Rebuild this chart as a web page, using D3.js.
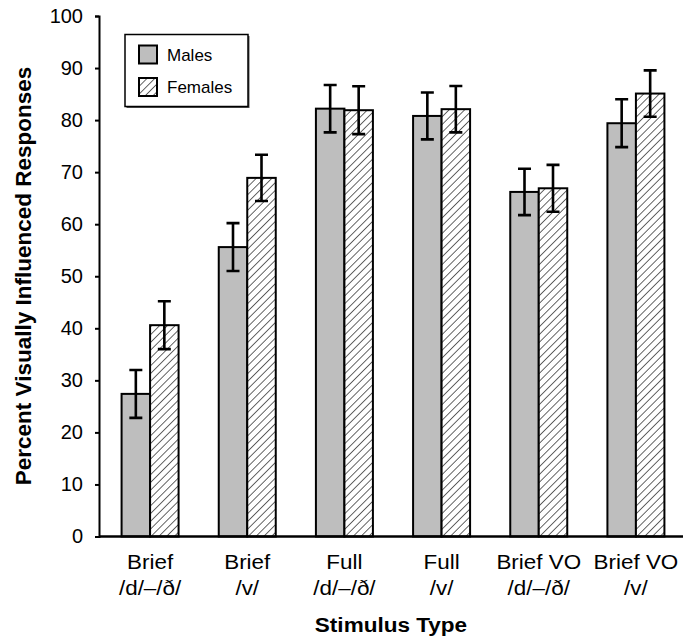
<!DOCTYPE html>
<html lang="en">
<head>
  <meta charset="UTF-8">
  <title>Percent Visually Influenced Responses</title>
  <script src="https://cdnjs.cloudflare.com/ajax/libs/d3/7.8.5/d3.min.js"></script>
  <style>
    body { margin: 0; background: #fff; }
    svg { display: block; font-family: "Liberation Sans", Arial, Helvetica, sans-serif; }
    .axis path, .axis line { stroke: #000; stroke-width: 2px; }
    .axis text { font-size: 20px; fill: #000; }
    .bar { stroke: #000; stroke-width: 2px; }
    .err { stroke: #000; stroke-width: 2.6px; fill: none; }
  </style>
</head>
<body>
  <div id="chart"></div>
  <script>
    // data
    var catTop = ["Brief", "Brief", "Full", "Full", "Brief VO", "Brief VO"];
    var catBottom = ["/d/–/ð/", "/v/", "/d/–/ð/", "/v/", "/d/–/ð/", "/v/"];
    var categories = catTop.map(function(t, i) { return t + " " + catBottom[i]; });
    var males = [27.4, 55.6, 82.2, 80.8, 66.2, 79.4];
    var females = [40.6, 68.9, 81.9, 82.1, 66.9, 85.1];
    var malesErr = [4.6, 4.6, 4.55, 4.5, 4.45, 4.6];
    var femalesErr = [4.6, 4.45, 4.6, 4.45, 4.5, 4.45];
    var series = ["Males", "Females"];
    var yTicks = [0, 10, 20, 30, 40, 50, 60, 70, 80, 90, 100];

    var width = 683, height = 639;
    var x0 = 99, yBase = 536.5, yTop = 16;

    var svg = d3.select("#chart").append("svg")
        .attr("width", width)
        .attr("height", height);

    // hatch for females
    var defs = svg.append("defs");
    defs.append("pattern")
        .attr("id", "hatch")
        .attr("patternUnits", "userSpaceOnUse")
        .attr("width", 5.5)
        .attr("height", 5.5)
        .attr("patternTransform", "rotate(45)")
      .call(function(p) {
        p.append("rect").attr("width", 5.5).attr("height", 5.5).attr("fill", "#fff");
        p.append("line").attr("x1", 0).attr("y1", 0).attr("x2", 0).attr("y2", 5.5)
          .attr("stroke", "#000").attr("stroke-width", 1.2);
      });

    var fills = { Males: "#bebebe", Females: "url(#hatch)" };

    // scales
    var x = d3.scaleBand().domain(categories).range([101.5, 684.5]);
    var xs = d3.scaleBand().domain(series).range([-28.5, 28.5]);
    var y = d3.scaleLinear().domain([0, 100]).range([yBase, yTop]);

    // bars
    var rows = categories.map(function(c, i) {
      return [
        { cat: c, key: "Males", v: males[i], e: malesErr[i] },
        { cat: c, key: "Females", v: females[i], e: femalesErr[i] }
      ];
    });

    var group = svg.selectAll(".grp")
        .data(rows)
      .enter().append("g")
        .attr("class", "grp")
        .attr("transform", function(d) { return "translate(" + (x(d[0].cat) + x.bandwidth() / 2) + ",0)"; });

    group.selectAll(".bar")
        .data(function(d) { return d; })
      .enter().append("rect")
        .attr("class", "bar")
        .attr("x", function(d) { return xs(d.key); })
        .attr("width", xs.bandwidth())
        .attr("y", function(d) { return y(d.v); })
        .attr("height", function(d) { return yBase - y(d.v); })
        .attr("fill", function(d) { return fills[d.key]; });

    // error bars
    var capW = 6.5;
    var err = group.selectAll(".err")
        .data(function(d) { return d; })
      .enter().append("path")
        .attr("class", "err")
        .attr("d", function(d) {
          var cx = xs(d.key) + xs.bandwidth() / 2;
          var hi = y(d.v + d.e), lo = y(d.v - d.e);
          return "M" + (cx - capW) + "," + hi + "H" + (cx + capW) +
                 "M" + cx + "," + hi + "V" + lo +
                 "M" + (cx - capW) + "," + lo + "H" + (cx + capW);
        });

    // y axis
    var yAxis = svg.append("g")
        .attr("class", "axis")
        .attr("transform", "translate(" + x0 + ",0)")
        .call(d3.axisLeft(y).tickValues(yTicks).tickSize(4).tickSizeOuter(4).tickPadding(12));

    // x axis line
    svg.append("line")
        .attr("x1", x0).attr("x2", 683)
        .attr("y1", yBase).attr("y2", yBase)
        .attr("stroke", "#000").attr("stroke-width", 2.5);

    // category labels (slightly wide type in the original)
    var labels = svg.selectAll(".cat")
        .data(categories)
      .enter().append("text")
        .attr("class", "cat")
        .attr("text-anchor", "middle")
        .attr("font-size", 19.5)
        .attr("transform", function(d) { return "translate(" + (x(d) + x.bandwidth() / 2) + ",0) scale(1.15,1)"; });
    labels.append("tspan").attr("x", 0).attr("y", 569).text(function(d, i) { return catTop[i]; });
    labels.append("tspan").attr("x", 0).attr("y", 595).text(function(d, i) { return catBottom[i]; });

    // axis titles
    svg.append("text")
        .attr("text-anchor", "middle")
        .attr("font-size", 20.5)
        .attr("font-weight", "bold")
        .attr("transform", "translate(" + ((x0 + 683) / 2) + ",632) scale(1.1,1)")
        .text("Stimulus Type");

    svg.append("text")
        .attr("text-anchor", "middle")
        .attr("font-size", 22.5)
        .attr("font-weight", "bold")
        .attr("transform", "translate(31,276) rotate(-90)")
        .text("Percent Visually Influenced Responses");

    // legend
    var legend = svg.append("g").attr("transform", "translate(125,34.5)");
    legend.append("rect")
        .attr("x", 1.5).attr("y", 1.5).attr("width", 123).attr("height", 72)
        .attr("fill", "#555");
    legend.append("rect")
        .attr("width", 123).attr("height", 72)
        .attr("fill", "#fff").attr("stroke", "#000").attr("stroke-width", 1.5);
    var li = legend.selectAll(".li")
        .data(series)
      .enter().append("g")
        .attr("transform", function(d, i) { return "translate(14," + (11 + i * 32.5) + ")"; });
    li.append("rect")
        .attr("class", "bar")
        .attr("width", 18).attr("height", 18)
        .attr("fill", function(d) { return fills[d]; });
    li.append("text")
        .attr("x", 28).attr("y", 15)
        .attr("font-size", 17)
        .text(function(d) { return d; });
  </script>
</body>
</html>
